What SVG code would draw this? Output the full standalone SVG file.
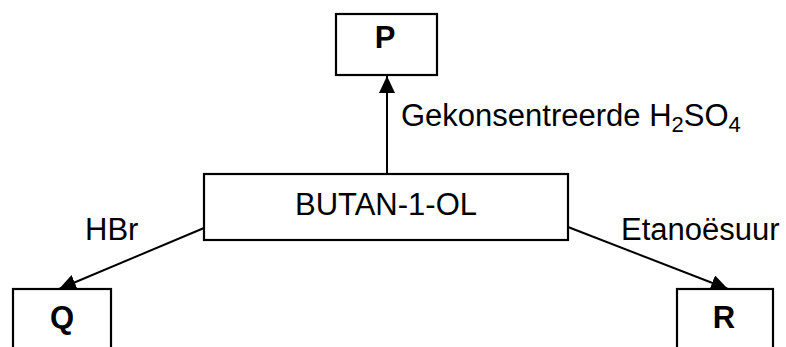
<svg xmlns="http://www.w3.org/2000/svg" width="786" height="347" viewBox="0 0 786 347">
<style>
.box{fill:#fff;stroke:#000;stroke-width:2.2}
.t{font-family:"Liberation Sans",Arial,sans-serif;font-size:31px;fill:#000}
.b{font-weight:bold;text-anchor:middle}
.c{fill:none;stroke:#000;stroke-width:2}
</style>
<defs>
<marker id="ah" markerUnits="userSpaceOnUse" markerWidth="18" markerHeight="16" viewBox="0 0 18 16" refX="17" refY="8" orient="auto">
<path d="M0,0 L17,8 L0,16 Z" fill="#000"/>
</marker>
</defs>
<rect width="786" height="347" fill="#fff"/>
<g id="connectors">
<line class="c" x1="387" y1="174" x2="387" y2="76" marker-end="url(#ah)"/>
<line class="c" x1="204" y1="228" x2="59" y2="289" marker-end="url(#ah)"/>
<line class="c" x1="568" y1="227" x2="728" y2="289" marker-end="url(#ah)"/>
<text class="t" x="401" y="126" font-size="31.5">Gekonsentreerde H<tspan font-size="22" dy="6">2</tspan><tspan dy="-6">SO</tspan><tspan font-size="22" dy="6">4</tspan></text>
<text class="t" x="85" y="240">HBr</text>
<text class="t" x="621" y="240" font-size="30.5">Etanoësuur</text>
</g>
<g id="P">
<rect class="box" x="336" y="14" width="101" height="61"/>
<text class="t b" x="385" y="48">P</text>
</g>
<g id="BUTAN">
<rect class="box" x="204" y="174" width="364" height="66"/>
<text class="t" x="386" y="215" text-anchor="middle" font-size="31.8">BUTAN-1-OL</text>
</g>
<g id="Q">
<rect class="box" x="13" y="289" width="98" height="70"/>
<text class="t b" x="62" y="328">Q</text>
</g>
<g id="R">
<rect class="box" x="677" y="289" width="96" height="70"/>
<text class="t b" x="724" y="328">R</text>
</g>
</svg>
